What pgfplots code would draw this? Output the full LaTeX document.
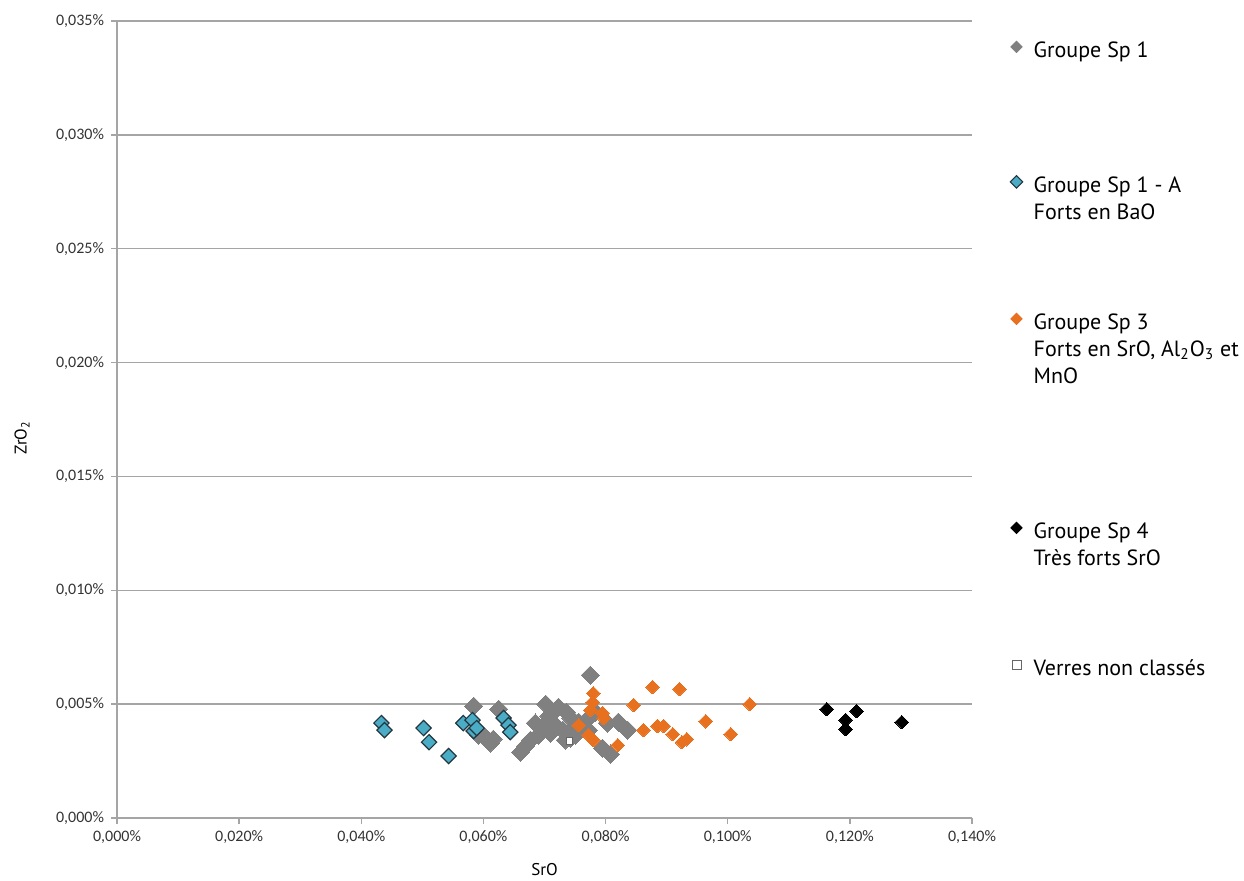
\documentclass[border=0pt]{standalone}
\usepackage{fontspec}
\setmainfont{PT Sans}
\newfontfamily\carlito{Carlito}
\usepackage{pgfplots}
\pgfplotsset{compat=1.18}

\definecolor{sp1}{RGB}{128,128,128}
\definecolor{spA}{RGB}{75,172,198}
\definecolor{spAedge}{RGB}{35,55,65}
\definecolor{sp3}{RGB}{232,113,32}
\definecolor{gridc}{RGB}{165,165,165}

% one legend line, and a spacer row between groups
\newcommand\ls{\rule[-5.5pt]{0pt}{17.5pt}}
\newcommand\gap[1]{\rule{0pt}{#1}}

\begin{document}
\begin{tikzpicture}
\useasboundingbox (0,0) rectangle (622pt,440pt);
\begin{axis}[
  at={(58.5pt,31pt)}, anchor=south west,
  scale only axis, width=427.5pt, height=398.5pt,
  xmin=0, xmax=0.14, ymin=0, ymax=0.035,
  xtick={0,0.02,0.04,0.06,0.08,0.1,0.12,0.14},
  ytick={0,0.005,0.01,0.015,0.02,0.025,0.03,0.035},
  axis x line=bottom, axis y line=left,
  axis line style={gridc,-,line width=0.7pt},
  tick style={gridc,line width=0.7pt},
  tick align=outside, major tick length=3pt,
  ymajorgrids, grid style={gridc,line width=0.7pt},
  /pgf/number format/assume math mode=true,
  ticklabel style={font=\carlito\fontsize{8}{9}\selectfont, text=black!80},
  xticklabel={\pgfmathprintnumber[fixed,fixed zerofill,precision=3,use comma]{\tick}\%},
  yticklabel={\pgfmathprintnumber[fixed,fixed zerofill,precision=3,use comma]{\tick}\%},
  scaled ticks=false,
  xlabel={SrO}, ylabel={ZrO\textsubscript{2}},
  label style={font=\fontsize{8.5}{10}\selectfont},
  xlabel style={at={(axis description cs:0.5,-0.065)}, anchor=center},
  ylabel style={at={(axis description cs:-0.111,0.477)}, anchor=center},
  legend cell align=left,
  legend style={at={(rel axis cs:1.0246,0.99)}, anchor=north west,
    draw=none, fill=none, row sep=0pt, column sep=3.5pt,
    nodes={inner ysep=0pt, inner xsep=2pt},
    font=\fontsize{11}{13}\selectfont},
]
% Groupe Sp 1
\addplot[only marks, mark=square*, mark size=3.2pt,
  mark options={rotate=45, fill=sp1, draw=sp1, line width=0pt}, forget plot]
  coordinates {
  (0.0584,0.00491) (0.0625,0.00478) (0.0592,0.00364) (0.0603,0.00355)
  (0.0616,0.00346) (0.0611,0.00329) (0.0661,0.00289) (0.0669,0.00316)
  (0.0677,0.00342) (0.0685,0.00417) (0.0690,0.00364) (0.0702,0.00500)
  (0.0697,0.00399) (0.0710,0.00373) (0.0707,0.00447) (0.0718,0.00408)
  (0.0723,0.00487) (0.0736,0.00465) (0.0730,0.00386) (0.0743,0.00439)
  (0.0748,0.00395) (0.0743,0.00351) (0.0756,0.00421) (0.0734,0.00342)
  (0.0751,0.00364) (0.0775,0.00627) (0.0769,0.00430) (0.0772,0.00386)
  (0.0784,0.00465) (0.0795,0.00307) (0.0808,0.00281) (0.0803,0.00417)
  (0.0821,0.00421) (0.0836,0.00386)
  };
% Groupe Sp 1 - A
\addplot[only marks, mark=square*, mark size=2.7pt,
  mark options={rotate=45, fill=spA, draw=spAedge, line width=0.6pt}, forget plot]
  coordinates {
  (0.0433,0.00417) (0.0438,0.00386) (0.0502,0.00395) (0.0511,0.00333)
  (0.0543,0.00272) (0.0567,0.00417) (0.0582,0.00430) (0.0584,0.00382)
  (0.0589,0.00395) (0.0633,0.00439) (0.0641,0.00408) (0.0644,0.00377)
  };
% Groupe Sp 3
\addplot[only marks, mark=square*, mark size=2.4pt,
  mark options={rotate=45, fill=sp3, draw=sp3, line width=0pt}, forget plot]
  coordinates {
  (0.0780,0.00548) (0.0779,0.00509) (0.0775,0.00474) (0.0795,0.00461)
  (0.0797,0.00439) (0.0756,0.00408) (0.0772,0.00364) (0.0780,0.00342)
  (0.0820,0.00320) (0.0846,0.00496) (0.0877,0.00575) (0.0921,0.00566)
  (0.0862,0.00386) (0.0885,0.00404) (0.0895,0.00404) (0.0910,0.00368)
  (0.0925,0.00333) (0.0933,0.00346) (0.0964,0.00425) (0.1005,0.00368)
  (0.1036,0.00500)
  };
% Groupe Sp 4
\addplot[only marks, mark=square*, mark size=2.4pt,
  mark options={rotate=45, fill=black, draw=black, line width=0pt}, forget plot]
  coordinates {
  (0.1162,0.00478) (0.1211,0.00469) (0.1193,0.00430) (0.1193,0.00390)
  (0.1285,0.00421)
  };
% Verres non classes
\addplot[only marks, mark=square*, mark size=1.6pt,
  mark options={fill=white, draw=black!60, line width=0.4pt}, forget plot]
  coordinates {(0.0741,0.00338)};

% legend
\addlegendimage{only marks, mark=square*, mark size=2pt, mark options={rotate=45, fill=sp1, draw=sp1}}
\addlegendentry{\ls Groupe Sp 1}
\addlegendimage{empty legend}\addlegendentry{\gap{52.5pt}}
\addlegendimage{only marks, mark=square*, mark size=2.2pt, mark options={rotate=45, fill=spA, draw=spAedge, line width=0.5pt}}
\addlegendentry{\ls Groupe Sp 1 - A}
\addlegendimage{empty legend}\addlegendentry{\ls Forts en BaO}
\addlegendimage{empty legend}\addlegendentry{\gap{40pt}}
\addlegendimage{only marks, mark=square*, mark size=2pt, mark options={rotate=45, fill=sp3, draw=sp3}}
\addlegendentry{\ls Groupe Sp 3}
\addlegendimage{empty legend}\addlegendentry{\ls Forts en SrO, Al\textsubscript{2}O\textsubscript{3} et}
\addlegendimage{empty legend}\addlegendentry{\ls MnO}
\addlegendimage{empty legend}\addlegendentry{\gap{62.5pt}}
\addlegendimage{only marks, mark=square*, mark size=2pt, mark options={rotate=45, fill=black, draw=black}}
\addlegendentry{\ls Groupe Sp 4}
\addlegendimage{empty legend}\addlegendentry{\ls Très forts SrO}
\addlegendimage{empty legend}\addlegendentry{\gap{40pt}}
\addlegendimage{only marks, mark=square*, mark size=2.2pt, mark options={fill=white, draw=black!60, line width=0.4pt}}
\addlegendentry{\ls Verres non classés}
\end{axis}
\end{tikzpicture}
\end{document}
